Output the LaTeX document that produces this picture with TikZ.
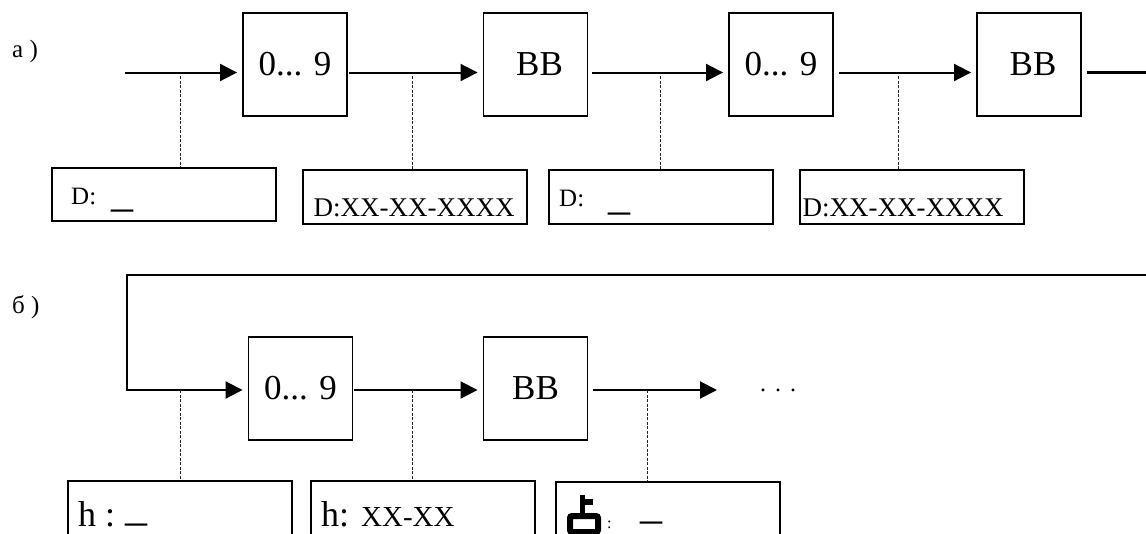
\documentclass[tikz,border=0pt]{standalone}
\usepackage{fontspec}
\setmainfont{Liberation Serif}
\usetikzlibrary{arrows.meta}
\newcommand{\fsz}[1]{\fontsize{#1}{#1}\selectfont}
\tikzset{
  block/.style={draw,line width=1.9pt,minimum width=104pt,minimum height=103pt,inner sep=0pt,font=\fsz{35}},
  panel/.style={draw,line width=2.3pt,anchor=north west,minimum width=224pt,inner sep=0pt},
  txt/.style={anchor=base west,inner sep=0pt},
  blank/.style={anchor=base west,inner sep=0pt,font=\fsz{44}},
  wire/.style={line width=2pt},
  flow/.style={wire,-{Triangle[length=17pt,width=17pt]},shorten >=5pt,shorten <=1pt},
  tap/.style={line width=1pt,dash pattern=on 3pt off 1.5pt,black!85}
}
\begin{document}
\begin{tikzpicture}[x=1pt,y=-1pt]
\useasboundingbox (0,0) rectangle (1146,533);
% row a
\node[txt,font=\fsz{25}] (capA) at (12,57) {a )};
\node[block] (numA) at (295,64.5) {0... 9};
\node[block] (bbA) at (535.5,64.5) {\hspace*{8pt}BB};
\node[block] (numB) at (781,64.5) {0... 9};
\node[block] (bbB) at (1029,64.5) {\hspace*{8pt}BB};
\coordinate (inA) at (125,72.5);
\coordinate (outA) at (1146,72.5);
\draw[flow,shorten <=0pt] (inA) -- (numA.west |- inA);
\draw[flow] (numA.east |- inA) -- (bbA.west |- inA);
\draw[flow] (bbA.east |- inA) ++(3,0) -- (numB.west |- inA);
\draw[flow] (numB.east |- inA) ++(4,0) -- (bbB.west |- inA);
\draw[line width=2.4pt,shorten <=5pt] (bbB.east |- outA) -- (outA);
% displays a
\node[panel,minimum height=53pt] (dispA) at (51,167) {};
\node[panel,minimum height=54pt] (dispB) at (302,169) {};
\node[panel,minimum height=54pt] (dispC) at (548,169) {};
\node[panel,minimum height=54pt] (dispD) at (798.5,169) {};
\node[txt,font=\fsz{25}] (txtA) at (71,204) {D:};
\node[blank] (blkA) at (111.5,206) {\_};
\node[txt,font=\fsz{27}] (txtB) at (313.5,216) {D:XX-XX-XXXX};
\node[txt,font=\fsz{25}] (txtC) at (559,206) {D:};
\node[blank] (blkC) at (608.5,209.5) {\_};
\node[txt,font=\fsz{27}] (txtD) at (802.5,216) {D:XX-XX-XXXX};
\coordinate (tapA) at (180,76);
\coordinate (tapB) at (412,76);
\coordinate (tapC) at (660,76);
\coordinate (tapD) at (898,76);
\draw[tap] (tapA) -- (tapA |- dispA.north);
\draw[tap] (tapB) -- (tapB |- dispB.north);
\draw[tap] (tapC) -- (tapC |- dispC.north);
\draw[tap] (tapD) -- (tapD |- dispD.north);
% row b
\node[txt,font=\fsz{25}] (capB) at (12,313) {б )};
\node[block] (numC) at (300.5,388.5) {0... 9};
\node[block] (bbC) at (535.5,388.5) {BB};
\coordinate (retA) at (1146,275);
\coordinate (retB) at (127,275);
\coordinate (retC) at (127,390);
\coordinate (endC) at (717,390);
\draw[line width=2.4pt] (retA) -- (retB) -- (retC);
\draw[flow,shorten <=-1pt] (retC) -- (numC.west |- retC);
\draw[flow] (numC.east |- retC) -- (bbC.west |- retC);
\draw[flow,shorten >=0pt] ([xshift=4pt]bbC.east |- retC) -- (endC);
\node[txt,font=\fsz{24}] (dots) at (760,391) {.\hspace{9pt}.\hspace{9pt}.};
% displays b
\node[panel,minimum height=53.5pt] (dispE) at (67,480) {};
\node[panel,minimum height=53.5pt] (dispF) at (310,480) {};
\node[panel,minimum height=53.5pt] (dispG) at (555,481) {};
\node[txt,font=\fsz{36}] (txtE) at (78,526) {h :};
\node[blank] (blkE) at (125,520) {\_};
\node[txt,font=\fsz{36}] (txtF) at (321,526) {h: {\fsz{29}XX-XX}};
\node[txt,font=\fsz{16}] (txtG) at (607,528) {:};
\node[blank] (blkG) at (640,518.5) {\_};
\coordinate (tapE) at (180,390);
\coordinate (tapF) at (412,390);
\coordinate (tapG) at (647,390);
\draw[tap] (tapE) -- (tapE |- dispE.north);
\draw[tap] (tapF) -- (tapF |- dispF.north);
\draw[tap] (tapG) -- (tapG |- dispG.north);
% key symbol
\fill (580,495) rectangle (584.5,515);
\fill (584,499) rectangle (593,505);
\draw[line width=6pt,rounded corners=2pt] (570,516) rectangle (598,532);
\end{tikzpicture}
\end{document}
